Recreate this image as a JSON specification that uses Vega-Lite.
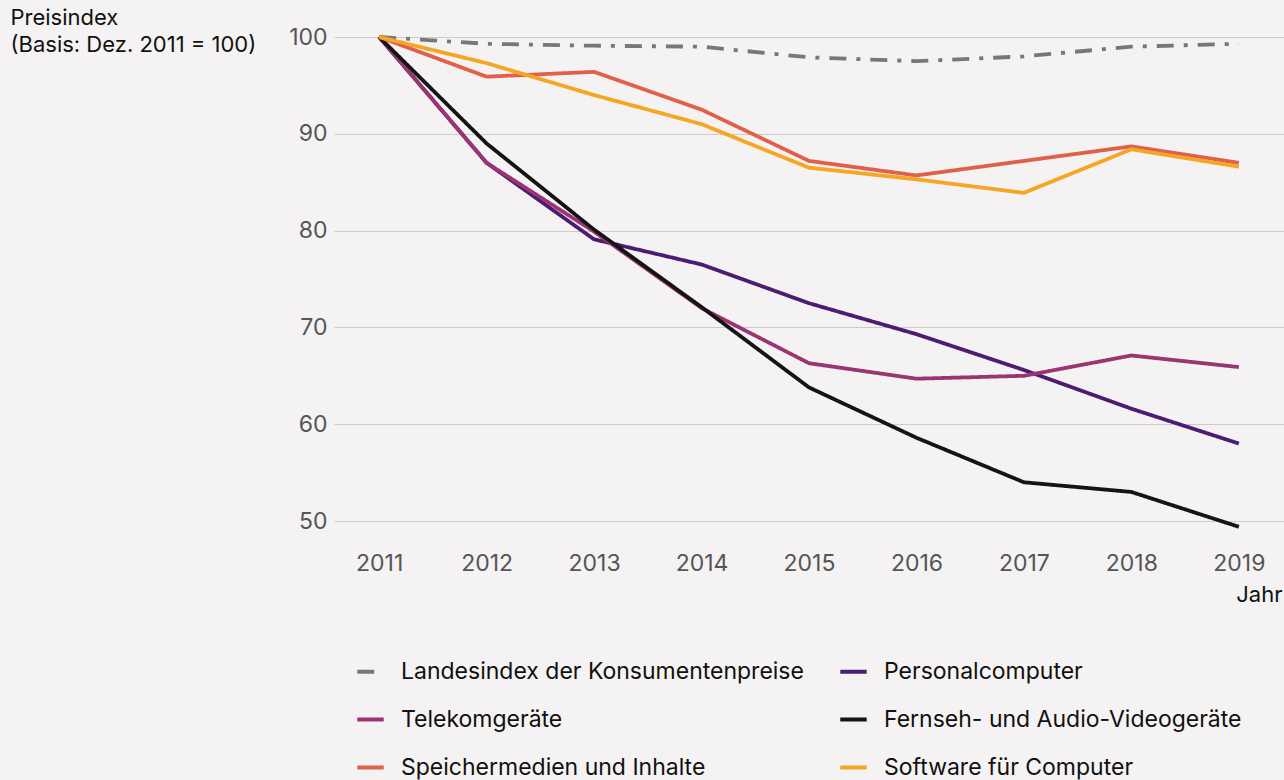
{
  "$schema": "https://vega.github.io/schema/vega-lite/v6.json",
  "width": 950,
  "height": 484,
  "autosize": {"type": "none"},
  "padding": {"left": 334, "top": 37, "right": 0, "bottom": 259},
  "background": "#f4f2f2",
  "config": {
    "font": "Inter",
    "view": {"stroke": null},
    "axis": {"labelFont": "Inter", "titleFont": "Inter"},
    "legend": {"labelFont": "Inter"}
  },
  "data": {
    "values": [
      {"Jahr": "2011", "Serie": "Landesindex der Konsumentenpreise", "Wert": 100},
      {"Jahr": "2012", "Serie": "Landesindex der Konsumentenpreise", "Wert": 99.3},
      {"Jahr": "2013", "Serie": "Landesindex der Konsumentenpreise", "Wert": 99.1},
      {"Jahr": "2014", "Serie": "Landesindex der Konsumentenpreise", "Wert": 99.0},
      {"Jahr": "2015", "Serie": "Landesindex der Konsumentenpreise", "Wert": 97.9},
      {"Jahr": "2016", "Serie": "Landesindex der Konsumentenpreise", "Wert": 97.5},
      {"Jahr": "2017", "Serie": "Landesindex der Konsumentenpreise", "Wert": 98.0},
      {"Jahr": "2018", "Serie": "Landesindex der Konsumentenpreise", "Wert": 99.0},
      {"Jahr": "2019", "Serie": "Landesindex der Konsumentenpreise", "Wert": 99.3},
      {"Jahr": "2011", "Serie": "Personalcomputer", "Wert": 100},
      {"Jahr": "2012", "Serie": "Personalcomputer", "Wert": 87.0},
      {"Jahr": "2013", "Serie": "Personalcomputer", "Wert": 79.1},
      {"Jahr": "2014", "Serie": "Personalcomputer", "Wert": 76.5},
      {"Jahr": "2015", "Serie": "Personalcomputer", "Wert": 72.5},
      {"Jahr": "2016", "Serie": "Personalcomputer", "Wert": 69.3},
      {"Jahr": "2017", "Serie": "Personalcomputer", "Wert": 65.6},
      {"Jahr": "2018", "Serie": "Personalcomputer", "Wert": 61.6},
      {"Jahr": "2019", "Serie": "Personalcomputer", "Wert": 58.0},
      {"Jahr": "2011", "Serie": "Telekomgeräte", "Wert": 100},
      {"Jahr": "2012", "Serie": "Telekomgeräte", "Wert": 87.0},
      {"Jahr": "2013", "Serie": "Telekomgeräte", "Wert": 79.9},
      {"Jahr": "2014", "Serie": "Telekomgeräte", "Wert": 72.0},
      {"Jahr": "2015", "Serie": "Telekomgeräte", "Wert": 66.3},
      {"Jahr": "2016", "Serie": "Telekomgeräte", "Wert": 64.7},
      {"Jahr": "2017", "Serie": "Telekomgeräte", "Wert": 65.0},
      {"Jahr": "2018", "Serie": "Telekomgeräte", "Wert": 67.1},
      {"Jahr": "2019", "Serie": "Telekomgeräte", "Wert": 65.9},
      {"Jahr": "2011", "Serie": "Fernseh- und Audio-Videogeräte", "Wert": 100},
      {"Jahr": "2012", "Serie": "Fernseh- und Audio-Videogeräte", "Wert": 89.0},
      {"Jahr": "2013", "Serie": "Fernseh- und Audio-Videogeräte", "Wert": 80.1},
      {"Jahr": "2014", "Serie": "Fernseh- und Audio-Videogeräte", "Wert": 72.1},
      {"Jahr": "2015", "Serie": "Fernseh- und Audio-Videogeräte", "Wert": 63.8},
      {"Jahr": "2016", "Serie": "Fernseh- und Audio-Videogeräte", "Wert": 58.6},
      {"Jahr": "2017", "Serie": "Fernseh- und Audio-Videogeräte", "Wert": 54.0},
      {"Jahr": "2018", "Serie": "Fernseh- und Audio-Videogeräte", "Wert": 53.0},
      {"Jahr": "2019", "Serie": "Fernseh- und Audio-Videogeräte", "Wert": 49.4},
      {"Jahr": "2011", "Serie": "Speichermedien und Inhalte", "Wert": 100},
      {"Jahr": "2012", "Serie": "Speichermedien und Inhalte", "Wert": 95.9},
      {"Jahr": "2013", "Serie": "Speichermedien und Inhalte", "Wert": 96.4},
      {"Jahr": "2014", "Serie": "Speichermedien und Inhalte", "Wert": 92.5},
      {"Jahr": "2015", "Serie": "Speichermedien und Inhalte", "Wert": 87.2},
      {"Jahr": "2016", "Serie": "Speichermedien und Inhalte", "Wert": 85.7},
      {"Jahr": "2017", "Serie": "Speichermedien und Inhalte", "Wert": 87.2},
      {"Jahr": "2018", "Serie": "Speichermedien und Inhalte", "Wert": 88.7},
      {"Jahr": "2019", "Serie": "Speichermedien und Inhalte", "Wert": 87.0},
      {"Jahr": "2011", "Serie": "Software für Computer", "Wert": 100},
      {"Jahr": "2012", "Serie": "Software für Computer", "Wert": 97.3},
      {"Jahr": "2013", "Serie": "Software für Computer", "Wert": 94.0},
      {"Jahr": "2014", "Serie": "Software für Computer", "Wert": 91.0},
      {"Jahr": "2015", "Serie": "Software für Computer", "Wert": 86.5},
      {"Jahr": "2016", "Serie": "Software für Computer", "Wert": 85.3},
      {"Jahr": "2017", "Serie": "Software für Computer", "Wert": 83.9},
      {"Jahr": "2018", "Serie": "Software für Computer", "Wert": 88.4},
      {"Jahr": "2019", "Serie": "Software für Computer", "Wert": 86.6}
    ]
  },
  "mark": {"type": "line", "strokeWidth": 3.8, "strokeCap": "butt", "strokeJoin": "miter"},
  "encoding": {
    "x": {
      "field": "Jahr",
      "type": "ordinal",
      "scale": {"type": "point", "padding": 0.42},
      "axis": {
        "title": "Jahr",
        "titleX": 948,
        "titleY": 73,
        "titleAlign": "right",
        "titleBaseline": "middle",
        "titleFontSize": 22,
        "titleFontWeight": "normal",
        "titleColor": "#111111",
        "labelAngle": 0,
        "labelFontSize": 23,
        "labelColor": "#555555",
        "labelPadding": 31,
        "labelBaseline": "top",
        "ticks": false,
        "domain": false,
        "grid": false
      }
    },
    "y": {
      "field": "Wert",
      "type": "quantitative",
      "scale": {"domain": [50, 100], "zero": false, "nice": false},
      "axis": {
        "values": [50, 60, 70, 80, 90, 100],
        "title": ["Preisindex", "(Basis: Dez. 2011 = 100)"],
        "titleAngle": 0,
        "titleX": -324,
        "titleY": -30,
        "titleAlign": "left",
        "titleBaseline": "top",
        "titleFontSize": 22,
        "titleFontWeight": "normal",
        "titleColor": "#111111",
        "titleLineHeight": 27,
        "labelFontSize": 23,
        "labelColor": "#555555",
        "labelPadding": 7,
        "ticks": false,
        "domain": false,
        "grid": true,
        "gridColor": "#cccccc",
        "gridWidth": 1.2
      }
    },
    "color": {
      "field": "Serie",
      "type": "nominal",
      "sort": null,
      "scale": {
        "domain": ["Landesindex der Konsumentenpreise", "Telekomgeräte", "Speichermedien und Inhalte", "Personalcomputer", "Fernseh- und Audio-Videogeräte", "Software für Computer"],
        "range": ["#777777", "#9b3572", "#e0604a", "#4b1c6f", "#141414", "#f5a623"]
      },
      "legend": {
        "title": null,
        "orient": "none",
        "legendX": 21,
        "legendY": 619,
        "direction": "vertical",
        "columns": 2,
        "columnPadding": 28,
        "rowPadding": 20,
        "symbolType": "stroke",
        "symbolSize": 700,
        "symbolStrokeWidth": 4,
        "labelFontSize": 23,
        "labelColor": "#111111",
        "labelOffset": 15,
        "labelLimit": 600
      }
    },
    "strokeDash": {
      "field": "Serie",
      "type": "nominal",
      "sort": null,
      "scale": {
        "domain": ["Landesindex der Konsumentenpreise", "Telekomgeräte", "Speichermedien und Inhalte", "Personalcomputer", "Fernseh- und Audio-Videogeräte", "Software für Computer"],
        "range": [[17, 10, 4, 10], [1, 0], [1, 0], [1, 0], [1, 0], [1, 0]]
      },
      "legend": null
    }
  }
}
